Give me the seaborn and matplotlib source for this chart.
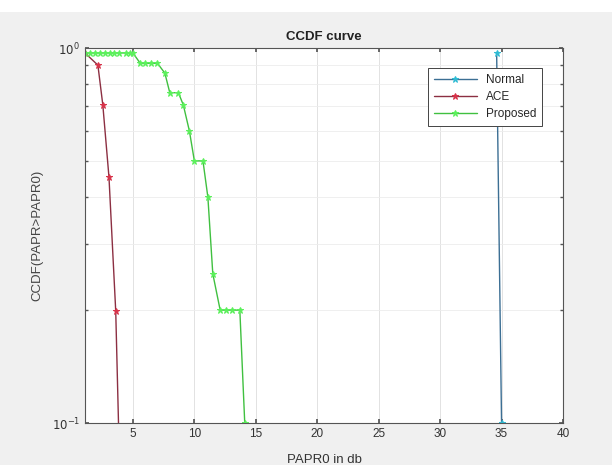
import numpy as np
import pandas as pd
import seaborn as sns
import matplotlib.pyplot as plt
from matplotlib.patches import Rectangle
from matplotlib.ticker import FixedLocator, NullFormatter

# values
normal_x = [34.6, 35.0]
normal_y = [0.97, 0.10]

ace_x = [1.1, 2.15, 2.55, 3.05, 3.6, 3.9]
ace_y = [0.97, 0.90, 0.705, 0.453, 0.199, 0.08]

proposed_x = [1.1, 1.5, 1.9, 2.3, 2.7, 3.1, 3.5, 3.9, 4.4, 4.8, 5.0,
              5.6, 6.0, 6.5, 7.0, 7.6, 8.0, 8.7, 9.1, 9.6, 10.0, 10.7,
              11.1, 11.5, 12.1, 12.6, 13.1, 13.7, 14.1]
proposed_y = [0.97, 0.97, 0.97, 0.97, 0.97, 0.97, 0.97, 0.97, 0.97, 0.97, 0.97,
              0.91, 0.91, 0.91, 0.91, 0.857, 0.76, 0.76, 0.705, 0.60, 0.50, 0.50,
              0.40, 0.25, 0.20, 0.20, 0.20, 0.20, 0.10]

x_ticks = [5, 10, 15, 20, 25, 30, 35, 40]


def ccdf_plot(save=True):
    sns.set_theme(style='ticks')
    plt.rcParams['font.family'] = ['Liberation Sans', 'DejaVu Sans']

    fig = plt.figure(figsize=(6.12, 4.65), dpi=100, facecolor='#f0f0f0')
    # white strip of the page above the figure
    fig.patches.append(Rectangle((0, 1 - 12 / 465), 1, 12 / 465, transform=fig.transFigure,
                                 facecolor='white', edgecolor='none', zorder=-1))
    ax = fig.add_axes([85 / 612, 1 - 423 / 465, 478 / 612, 375 / 465])
    ax.set_facecolor('white')

    series = [
        ('Normal', normal_x, normal_y, '#3c6f94', '#30bcd4'),
        ('ACE', ace_x, ace_y, '#8c2f42', '#d8334a'),
        ('Proposed', proposed_x, proposed_y, '#40c040', '#5cf05c'),
    ]
    for name, xs, ys, line_c, mark_c in series:
        df = pd.DataFrame({'x': xs, 'y': ys})
        sns.lineplot(data=df, x='x', y='y', ax=ax, label=name, color=line_c,
                     marker='*', markersize=5, markerfacecolor=mark_c,
                     markeredgecolor=mark_c, linewidth=1.0, sort=False,
                     estimator=None, clip_on=True)

    ax.set_yscale('log')
    ax.set_xlim(1.1, 40)
    ax.set_ylim(0.1, 1.0)
    ax.xaxis.set_major_locator(FixedLocator(x_ticks))
    ax.yaxis.set_major_locator(FixedLocator([0.1, 1.0]))
    ax.set_yticklabels([r'$10^{-1}$', r'$10^{0}$'])
    ax.yaxis.set_minor_locator(FixedLocator([0.2, 0.3, 0.4, 0.5, 0.6, 0.7, 0.8, 0.9]))
    ax.yaxis.set_minor_formatter(NullFormatter())

    ax.grid(True, which='major', color='#e2e2e2', linewidth=0.7)
    ax.grid(True, which='minor', axis='y', color='#ececec', linewidth=0.6)
    ax.set_axisbelow(True)

    for sp in ax.spines.values():
        sp.set_visible(True)
        sp.set_color('#555555')
        sp.set_linewidth(0.8)
    ax.tick_params(which='both', direction='in', top=True, right=True,
                   colors='#555555', labelcolor='#333333', labelsize=8.5, length=3)
    ax.tick_params(which='minor', length=2)

    ax.set_title('CCDF curve', fontsize=9.5, fontweight='bold', color='#222222', pad=6)
    ax.set_xlabel('PAPR0 in db', fontsize=9.5, color='#333333', labelpad=10)
    ax.set_ylabel('CCDF(PAPR>PAPR0)', fontsize=9.5, color='#444444', labelpad=6)

    leg = ax.legend(loc='upper right', bbox_to_anchor=(0.969, 0.963), fontsize=8.5,
                    fancybox=False, framealpha=1, edgecolor='#444444',
                    borderpad=0.5, handlelength=3.6, labelspacing=0.45)
    leg.get_frame().set_linewidth(0.7)

    if save:
        fig.savefig('out.png', dpi=100, facecolor=fig.get_facecolor())


if __name__ == "__main__":
    ccdf_plot(save=True)
